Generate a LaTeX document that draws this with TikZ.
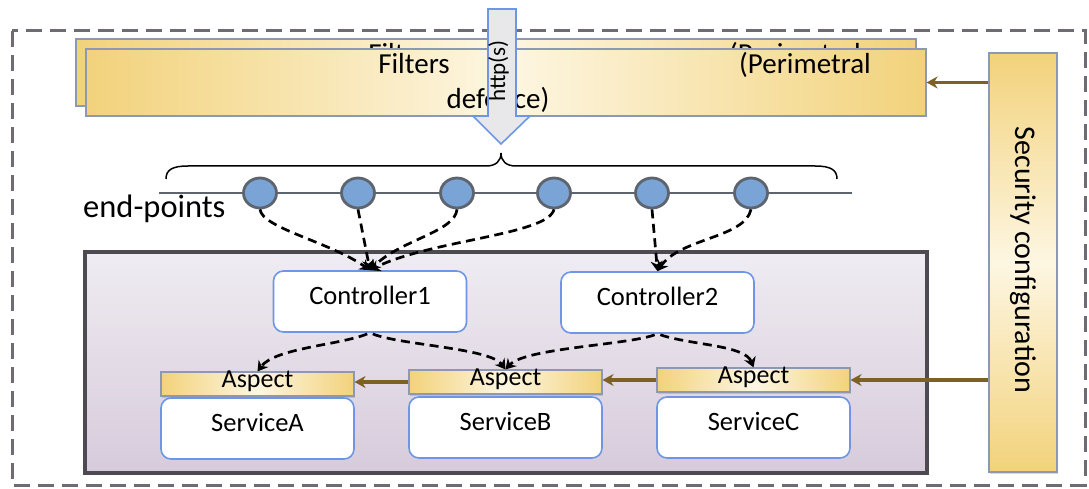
\documentclass[tikz,border=0pt]{standalone}
\usepackage{fontspec}
\setmainfont{Carlito}
\usetikzlibrary{arrows.meta,shadows,shapes.geometric}

\definecolor{gold}{RGB}{242,210,123}
\definecolor{cream}{RGB}{253,246,226}
\definecolor{barline}{RGB}{140,152,180}
\definecolor{frameline}{RGB}{112,106,116}
\definecolor{coreline}{RGB}{78,74,82}
\definecolor{coretop}{RGB}{239,236,242}
\definecolor{corebot}{RGB}{215,203,219}
\definecolor{boxblue}{RGB}{110,150,230}
\definecolor{epfill}{RGB}{123,164,214}
\definecolor{epline}{RGB}{94,100,110}
\definecolor{feedbrown}{RGB}{125,96,36}
\definecolor{arrowfill}{RGB}{232,232,235}

\begin{document}
\begin{tikzpicture}[x=1pt,y=-1pt,
  lbl/.style={text height=0.64em,text depth=0pt,inner sep=0pt},
  goldh/.style={draw=barline,line width=1.1pt,left color=gold,right color=gold,
    middle color=cream,inner sep=0pt,
    drop shadow={opacity=0.3,shadow xshift=1pt,shadow yshift=-1.5pt}},
  goldv/.style={draw=barline,line width=1.1pt,top color=gold,bottom color=gold,
    middle color=cream,inner sep=0pt,
    drop shadow={opacity=0.3,shadow xshift=1pt,shadow yshift=-1.5pt}},
  filterbar/.style={goldh,minimum width=840pt,minimum height=67pt},
  bartext/.style={anchor=base,inner sep=0pt,font=\fontsize{29}{32}\selectfont},
  aspectbar/.style={goldh,lbl,minimum width=193pt,minimum height=24pt,
    font=\fontsize{26}{30}\selectfont},
  roundbox/.style={draw=boxblue,line width=1.6pt,fill=white,rounded corners=10pt,
    lbl,minimum width=193pt,minimum height=61pt,font=\fontsize{26.5}{30}\selectfont},
  endpoint/.style={ellipse,draw=epline,line width=2.8pt,fill=epfill,
    minimum width=33pt,minimum height=30pt,inner sep=0pt},
  flow/.style={draw=black,line width=2.7pt,dash pattern=on 9pt off 5.5pt,
    -{Stealth[length=10pt,width=12pt]}},
  feed/.style={draw=feedbrown,line width=3.5pt,-{Stealth[length=11pt,width=12pt]}}
]
\useasboundingbox (0,0) rectangle (1089,489);

% outer dashed boundary
\draw[frameline,line width=3pt,dash pattern=on 16pt off 8pt] (12,31) rectangle (1085,485);

% perimetral filter bars (back copy, then front copy)
\node[filterbar] (filtB) at (496,72.5) {};
\node[bartext] (filtBa) at (404,64) {Filters};
\node[bartext] (filtBb) at (795,64) {(Perimetral};
\node[filterbar] (filtF) at (506,82.5) {};
\node[bartext] (filtFa) at (414,74) {Filters};
\node[bartext] (filtFb) at (805,74) {(Perimetral};
\node[bartext] (filtFc) at (498,109) {defence)};

% incoming request arrow
\draw[draw=boxblue,line width=1.6pt,fill=arrowfill]
  (488,9) -- (516,9) -- (516,116) -- (530,116) -- (501,144) -- (473,116) -- (488,116) -- cycle;
\node[lbl,rotate=90,font=\fontsize{23}{26}\selectfont] (http) at (502,71) {http(s)};

% brace over the end-points
\draw[line width=1.5pt] (166,179) .. controls (166,170) and (172,166) .. (188,166) -- (486,166)
  .. controls (496,166) and (501,161) .. (501,153)
  .. controls (501,161) and (506,166) .. (516,166) -- (815,166)
  .. controls (831,166) and (837,170) .. (837,179);

% end-point line and end-points
\coordinate (lineL) at (159,193);
\coordinate (lineR) at (852,193);
\draw[epline,line width=2.4pt] (lineL) -- (lineR);
\node[anchor=base west,inner sep=0pt,font=\fontsize{32.5}{36}\selectfont] (eplabel) at (83,217) {end-points};
\node[endpoint] (ep1) at (260,193) {};
\node[endpoint] (ep2) at (358,193) {};
\node[endpoint] (ep3) at (457,193) {};
\node[endpoint] (ep4) at (554,193) {};
\node[endpoint] (ep5) at (652,193) {};
\node[endpoint] (ep6) at (751,193) {};

% application container
\node[draw=coreline,line width=3.5pt,top color=coretop,bottom color=corebot,
  minimum width=842pt,minimum height=221pt,inner sep=0pt] (core) at (506,362.5) {};

\node[roundbox] (ctrl1) at (370,301.5) {Controller1};
\node[roundbox] (ctrl2) at (657.5,302.5) {Controller2};

\node[aspectbar] (aspA) at (257.5,384) {Aspect};
\node[aspectbar] (aspB) at (505.5,382) {Aspect};
\node[aspectbar] (aspC) at (753.5,380) {Aspect};

\node[roundbox] (svcA) at (257.5,428.5) {ServiceA};
\node[roundbox] (svcB) at (505.5,427.5) {ServiceB};
\node[roundbox] (svcC) at (753.5,427.5) {ServiceC};

% security configuration column
\node[goldv,minimum width=68pt,minimum height=419pt] (sec) at (1023,262.5) {};
\node[lbl,rotate=-90,font=\fontsize{30}{34}\selectfont] (sectext) at (1019,260) {Security configuration};

% routing from end-points to controllers
\draw[flow] (ep1.south) .. controls (262,228) and (330,242) .. (ctrl1.north);
\draw[flow] (ep2.south) -- (ctrl1.north);
\draw[flow] (ep3.south) .. controls (455,232) and (400,240) .. (ctrl1.north);
\draw[flow] (ep4.south) .. controls (548,235) and (430,240) .. (ctrl1.north);
\draw[flow] (ep5.south) -- (ctrl2.north);
\draw[flow] (ep6.south) .. controls (745,238) and (680,238) .. (ctrl2.north);

% controllers calling services through their aspects
\draw[flow,shorten <=3pt] (ctrl1.south) .. controls (340,345) and (275,348) .. (aspA.north);
\draw[flow,shorten <=3pt] (ctrl1.south) .. controls (400,345) and (490,348) .. (aspB.north);
\draw[flow,shorten <=3pt] (ctrl2.south) .. controls (627,345) and (525,348) .. (aspB.north);
\draw[flow,shorten <=3pt] (ctrl2.south) .. controls (690,345) and (745,345) .. (aspC.north);

% security configuration feeding filters and aspects
\draw[feed] (sec.west |- filtF.east) -- (filtF.east);
\draw[feed] (sec.west |- aspC.east) -- (aspC.east);
\draw[feed] (aspC.west) -- (aspC.west -| aspB.east);
\draw[feed] (aspB.west) -- (aspB.west -| aspA.east);
\end{tikzpicture}
\end{document}
